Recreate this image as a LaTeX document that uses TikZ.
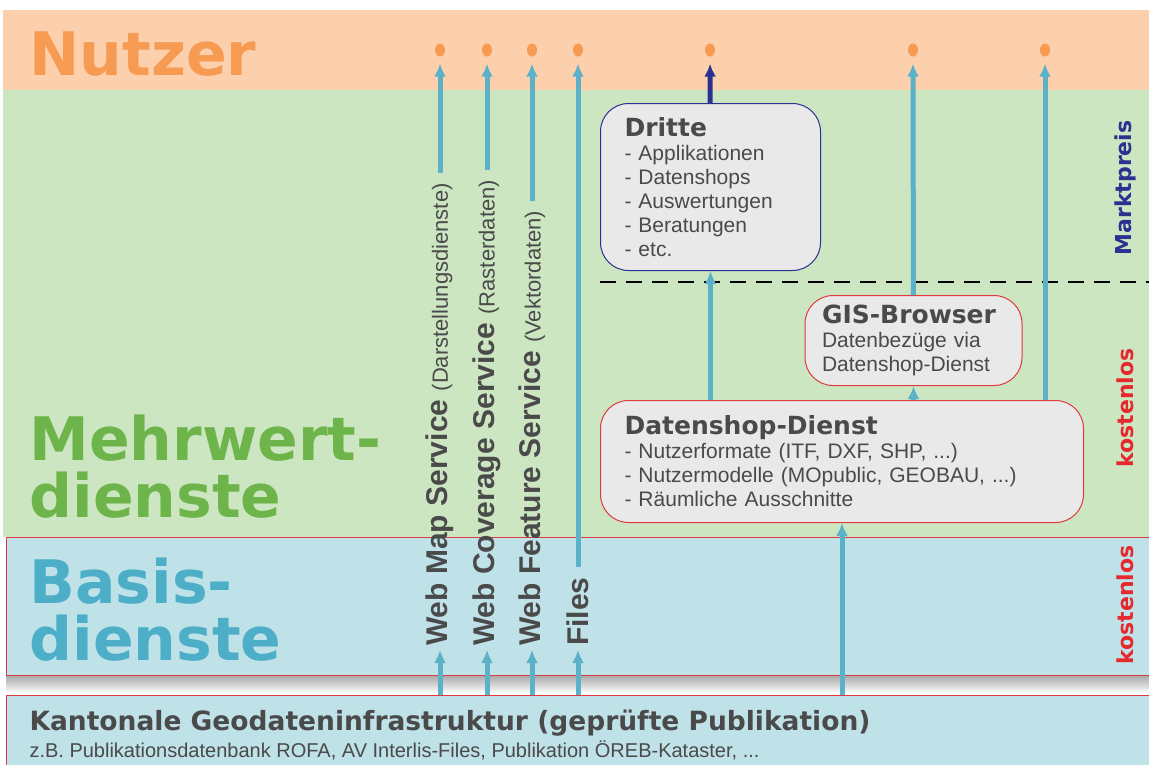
\documentclass[tikz,border=0pt]{standalone}
\usepackage{fontspec}
\setmainfont{Liberation Sans}
\newfontfamily\heavy{DejaVu Sans}
\usetikzlibrary{arrows.meta,shapes.geometric}

\definecolor{nutzerbg}{HTML}{FCCFAD}
\definecolor{nutzerfg}{HTML}{F79A52}
\definecolor{mehrbg}{HTML}{CDE6C2}
\definecolor{mehrfg}{HTML}{6DB54A}
\definecolor{basisbg}{HTML}{BFE1E8}
\definecolor{basisfg}{HTML}{4DAEC7}
\definecolor{pfeil}{HTML}{5BB2C8}
\definecolor{schrift}{HTML}{4A4A4A}
\definecolor{boxgrau}{HTML}{E9E9EA}
\definecolor{rahmenrot}{HTML}{E0393E}
\definecolor{dunkelblau}{HTML}{2B3190}
\definecolor{preisrot}{HTML}{E52A2F}

\begin{document}
\begin{tikzpicture}[x=1pt,y=-1pt,>={Latex[length=13pt,width=12pt]},
  nutzerpunkt/.style={ellipse,fill=nutzerfg,minimum width=10pt,minimum height=13pt,inner sep=0pt},
  fluss/.style={->,line width=5pt,draw=pfeil},
  kasten/.style={draw,line width=1pt,rounded corners=28pt,fill=boxgrau,align=left,text=schrift,
    anchor=north west,inner xsep=24pt,font=\fontsize{21}{24}\selectfont},
  titel/.style={font=\heavy\bfseries\fontsize{60}{57}\selectfont,anchor=base west,align=left},
  dienst/.style={rotate=90,anchor=west,text=schrift,inner sep=4pt,font=\bfseries\fontsize{30}{30}\selectfont},
  preis/.style={rotate=90,font=\heavy\bfseries\fontsize{22}{22}\selectfont}]

\useasboundingbox (0,0) rectangle (1149,764);

% Ebenen
\fill[nutzerbg] (3,10) rectangle (1149,90);
\fill[mehrbg] (3,90) rectangle (1149,537);
\shade[top color=black!35,bottom color=white] (6,675) rectangle (1149,693);
\draw[rahmenrot,fill=basisbg] (6,537) rectangle (1152,675);
\node[draw=rahmenrot,fill=basisbg,minimum width=1146pt,minimum height=72pt,inner sep=0pt,
  anchor=north west] (kgi) at (6,695) {};

\node[titel,text=nutzerfg] (nutzer) at (26,75) {Nutzer};
\node[titel,text=mehrfg] (mehrwert) at (26,517) {Mehrwert-\\dienste};
\node[titel,text=basisfg] (basis) at (26,660) {Basis-\\dienste};

\draw[dashed,line width=1.5pt,dash pattern=on 16pt off 10pt] (600,282) -- (1149,282);

% Nutzer
\foreach \n/\x in {1/440,2/487,3/532,4/578,5/710,6/913,7/1045}
  \node[nutzerpunkt] (d\n) at (\x,50) {};

% Dienste
\node[dienst] (wms) at (440,650) {Web Map Service {\mdseries\fontsize{22}{22}\selectfont(Darstellungsdienste)}};
\node[dienst] (wcs) at (487,650) {Web Coverage Service {\mdseries\fontsize{22}{22}\selectfont(Rasterdaten)}};
\node[dienst] (wfs) at (532,650) {Web Feature Service {\mdseries\fontsize{22}{22}\selectfont(Vektordaten)}};
\node[dienst] (files) at (578,650) {Files};

\node[kasten,draw=dunkelblau,minimum width=220pt,minimum height=167pt,text width=172pt] (dritte) at (600,103)
  {{\heavy\bfseries\fontsize{25}{25}\selectfont Dritte}\\- Applikationen\\- Datenshops\\- Auswertungen\\- Beratungen\\- etc.};
\node[kasten,draw=rahmenrot,minimum width=217pt,minimum height=90pt,text width=183pt,inner xsep=17pt] (gis) at (804.5,295)
  {{\heavy\bfseries\fontsize{25}{25}\selectfont GIS-Browser}\\Datenbezüge via\\Datenshop-Dienst};
\node[kasten,draw=rahmenrot,minimum width=483pt,minimum height=122pt,text width=435pt] (shop) at (600,400)
  {{\heavy\bfseries\fontsize{25}{25}\selectfont Datenshop-Dienst}\\- Nutzerformate (ITF, DXF, SHP, ...)\\- Nutzermodelle (MOpublic, GEOBAU, ...)\\- Räumliche Ausschnitte};

\node[preis,text=dunkelblau] (markt) at (1125,188) {Marktpreis};
\node[preis,text=preisrot] (gratis1) at (1125,408) {kostenlos};
\node[preis,text=preisrot] (gratis2) at (1125,605) {kostenlos};

\node[anchor=base west,text=schrift,font=\heavy\bfseries\fontsize{26.5}{26.5}\selectfont] (kgititel) at (26,730)
  {Kantonale Geodateninfrastruktur (geprüfte Publikation)};
\node[anchor=base west,text=schrift,font=\fontsize{20}{20}\selectfont] (kgibsp) at (26,757)
  {z.B. Publikationsdatenbank ROFA, AV Interlis-Files, Publikation ÖREB-Kataster, ...};

% Pfeile
\foreach \s/\n in {wms/1,wcs/2,wfs/3,files/4} {
  \draw[fluss] (\s.west |- kgi.north) -- (\s.west);
  \draw[fluss,shorten <=6pt,shorten >=7pt] (\s.east) -- (d\n);
}
\coordinate (q5) at (842,695);
\draw[fluss] (q5) -- (q5 |- shop.south);
\draw[fluss] (dritte.south |- shop.north) -- (dritte.south);
\draw[fluss] (gis.south |- shop.north) -- (gis.south);
\draw[fluss,shorten >=7pt] (gis) -- (d6);
\draw[fluss,shorten >=7pt] (shop.north -| d7) -- (d7);
\draw[fluss,draw=dunkelblau,shorten >=7pt] (dritte) -- (d5);
\end{tikzpicture}
\end{document}
